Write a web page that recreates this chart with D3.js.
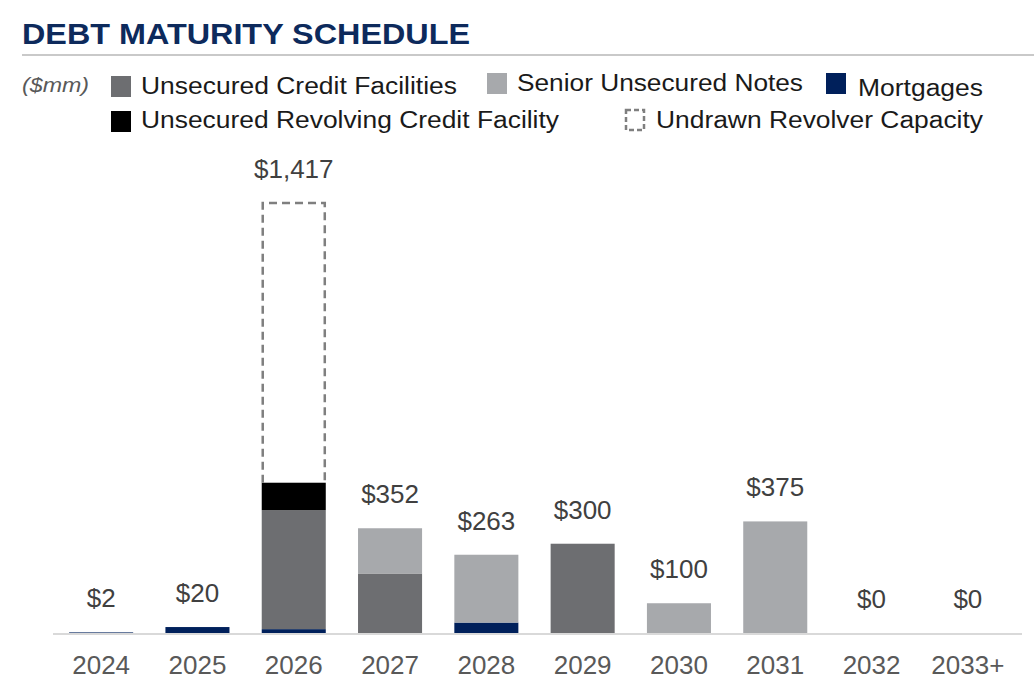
<!DOCTYPE html>
<html><head><meta charset="utf-8">
<script src="https://cdn.jsdelivr.net/npm/d3@7/dist/d3.min.js"></script>
<style>body{margin:0;background:#fff}svg{display:block;font-family:"Liberation Sans",Arial,sans-serif}</style>
</head><body><svg id="c" width="1034" height="693"></svg>
<script>
const years = ["2024","2025","2026","2027","2028","2029","2030","2031","2032","2033+"];
const mortgages      = [2, 20, 13, 0, 35, 0, 0, 0, 0, 0];
const creditFacility = [0, 0, 400, 200, 0, 300, 0, 0, 0, 0];
const revolver       = [0, 0, 92, 0, 0, 0, 0, 0, 0, 0];
const seniorNotes    = [0, 0, 0, 152, 228, 0, 100, 375, 0, 0];
const undrawn        = [0, 0, 940, 0, 0, 0, 0, 0, 0, 0];
const totalLabels    = ["$2","$20","$1,417","$352","$263","$300","$100","$375","$0","$0"];

const seriesKeys = ["mortgages","creditFacility","revolver","seniorNotes","undrawn"];
const colors = {mortgages:"#00205b", creditFacility:"#6d6e71", revolver:"#000000", seniorNotes:"#a7a9ac", undrawn:"#ffffff"};
const rows = years.map((y,i)=>({year:y, mortgages:mortgages[i], creditFacility:creditFacility[i], revolver:revolver[i], seniorNotes:seniorNotes[i], undrawn:undrawn[i], label:totalLabels[i]}));

const svg = d3.select("#c");
const baseY = 633;
const x = d3.scaleBand().domain(years).range([53, 1016]).paddingInner(0.335).paddingOuter(0.1675);
const y = d3.scaleLinear().domain([0, 1445]).range([baseY, baseY - 430]);

// title
svg.append("text").attr("x",22).attr("y",44).attr("font-size",29).attr("font-weight","bold")
  .attr("fill","#0d2a5c").attr("textLength",448).attr("lengthAdjust","spacingAndGlyphs").text("DEBT MATURITY SCHEDULE");
svg.append("line").attr("x1",22).attr("x2",1034).attr("y1",55).attr("y2",55).attr("stroke","#c9c9c9").attr("stroke-width",2);

// legend
svg.append("text").attr("x",22).attr("y",92).attr("font-size",21).attr("font-style","italic").attr("fill","#595959")
  .attr("textLength",67).attr("lengthAdjust","spacingAndGlyphs").text("($mm)");
const legend = [
  {k:"creditFacility", t:"Unsecured Credit Facilities", sx:111, sy:76, tx:141, ty:94, w:316},
  {k:"seniorNotes", t:"Senior Unsecured Notes", sx:487, sy:73, tx:517, ty:91, w:286},
  {k:"mortgages", t:"Mortgages", sx:826, sy:73, tx:858, ty:96, w:125},
  {k:"revolver", t:"Unsecured Revolving Credit Facility", sx:111, sy:111, tx:141, ty:128, w:418},
  {k:"undrawn", t:"Undrawn Revolver Capacity", sx:625, sy:109, tx:656, ty:128, w:327}
];
const lg = svg.append("g");
legend.forEach(d=>{
  if(d.k==="undrawn"){
    lg.append("rect").attr("x",d.sx+1).attr("y",d.sy+1).attr("width",18).attr("height",20)
      .attr("fill","#fff").attr("stroke","#7f7f7f").attr("stroke-width",2.5).attr("stroke-dasharray","5,3");
  } else {
    lg.append("rect").attr("x",d.sx).attr("y",d.sy).attr("width",20).attr("height",21).attr("fill",colors[d.k]);
  }
  lg.append("text").attr("x",d.tx).attr("y",d.ty).attr("font-size",23).attr("fill","#1a1a1a")
    .attr("textLength",d.w).attr("lengthAdjust","spacingAndGlyphs").text(d.t);
});

// bars
const stack = d3.stack().keys(seriesKeys)(rows);
const g = svg.append("g");
stack.forEach(layer=>{
  const k = layer.key;
  const sel = g.selectAll(null).data(layer.filter(d=>d[1]-d[0]>0));
  if(k==="undrawn"){
    sel.join("path").attr("d",d=>{
      const x0 = x(d.data.year)+1, x1 = x(d.data.year)+x.bandwidth()-1, yt = y(d[1]), yb = y(d[0]);
      return `M${x0},${yb}V${yt}H${x1}V${yb}`;
    }).attr("fill","none").attr("stroke","#7f7f7f").attr("stroke-width",2.5).attr("stroke-dasharray","8,5");
  } else {
    sel.join("rect")
      .attr("x",d=>x(d.data.year)).attr("width",x.bandwidth())
      .attr("y",d=>y(d[1])).attr("height",d=>y(d[0])-y(d[1]))
      .attr("fill",colors[k]);
  }
});

// axis line
svg.append("line").attr("x1",53).attr("x2",1022).attr("y1",baseY+1).attr("y2",baseY+1).attr("stroke","#d9d9d9").attr("stroke-width",2);
// x labels
const xAxis = d3.axisBottom(x).tickSize(0).tickPadding(0);
const ax = svg.append("g").attr("transform",`translate(0,${baseY+41})`).call(xAxis);
ax.select(".domain").remove();
ax.selectAll("text").attr("font-size",26).attr("fill","#595959").attr("font-family","Liberation Sans, Arial, sans-serif").attr("dy",0);

// total labels
g.selectAll(null).data(rows).join("text")
  .attr("x",d=>x(d.year)+x.bandwidth()/2)
  .attr("y",d=>y(d.mortgages+d.creditFacility+d.revolver+d.seniorNotes+d.undrawn) - 25)
  .attr("text-anchor","middle").attr("font-size",26).attr("fill","#404040").text(d=>d.label);
</script></body></html>
